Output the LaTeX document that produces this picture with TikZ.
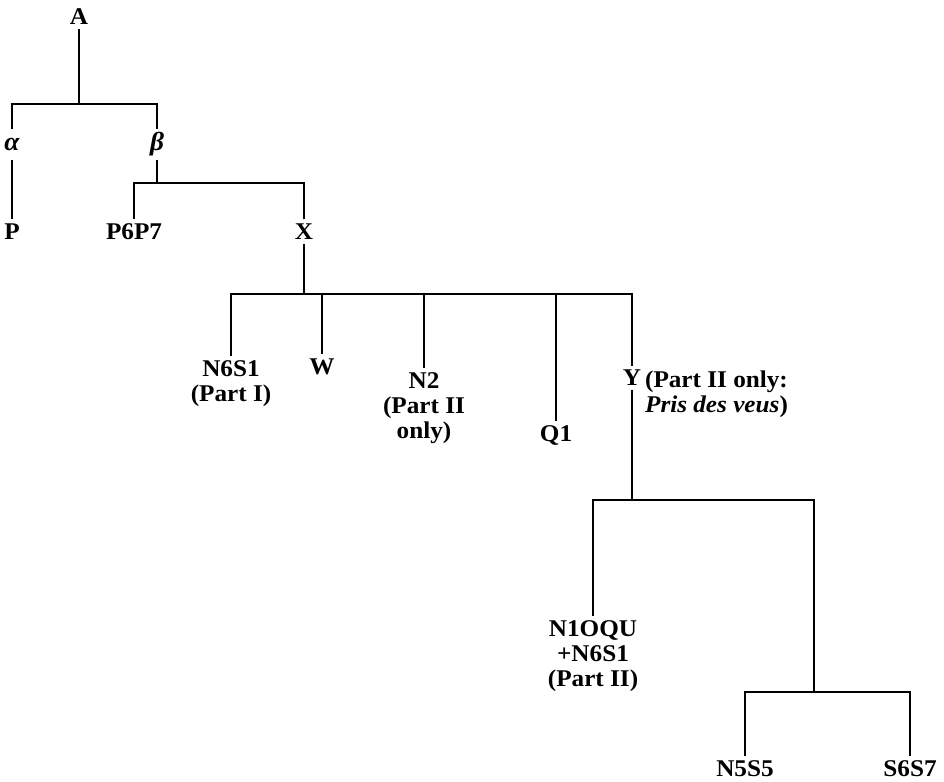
\documentclass[tikz,border=0pt]{standalone}
\usepackage{fontspec}
\newfontfamily\treefont{Liberation Serif}[FakeStretch=1.05]
\begin{document}
\begin{tikzpicture}[x=1pt,y=-1pt,
  lbl/.style={anchor=north, inner xsep=0pt, inner ysep=5.5pt, outer sep=0pt, align=center,
              font=\treefont\bfseries\fontsize{24}{25}\selectfont},
  greek/.style={lbl, text height=15pt, text depth=4pt, inner ysep=7pt,
              font=\treefont\bfseries\itshape\fontsize{26}{25}\selectfont},
  conn/.style={line width=2.2pt, line join=miter, line cap=rect}]
\useasboundingbox (0,0) rectangle (944,781);
% nodes
\node[lbl] (A) at (79,3) {A};
\node[greek] (alpha) at (12,128) {α};
\node[greek] (beta) at (157,128) {β};
\node[lbl] (P) at (12,218) {P};
\node[lbl] (P6P7) at (134,218) {P6P7};
\node[lbl] (X) at (304,218) {X};
\node[lbl] (N6S1) at (231,355) {N6S1\\(Part I)};
\node[lbl] (W) at (322,353) {W};
\node[lbl] (N2) at (424,367) {N2\\(Part II\\only)};
\node[lbl] (Q1) at (556,420) {Q1};
\node[lbl, inner ysep=5pt] (Y) at (632,365) {Y};
\node[lbl, anchor=north west, align=left, inner xsep=0pt, xshift=4pt] (note) at (Y.north east)
  {(Part II only:\\\textit{Pris des veus})};
\node[lbl] (N1) at (593,615) {N1OQU\\+N6S1\\(Part II)};
\node[lbl] (N5) at (745,755) {N5S5};
\node[lbl] (S6) at (910,755) {S6S7};
% junctions
\coordinate (jA) at (79,104);
\coordinate (jB) at (157,183);
\coordinate (jX) at (304,294);
\coordinate (jY) at (632,500);
\coordinate (j2) at (814,692);
% connectors
\draw[conn] (A.south) -- (jA);
\draw[conn] (alpha.north) |- (jA) -| (beta.north);
\draw[conn] (alpha.south) -- (P.north);
\draw[conn] (beta.south) -- (jB);
\draw[conn] (P6P7.north) |- (jB) -| (X.north);
\draw[conn] (X.south) -- (jX);
\draw[conn] (N6S1.north) |- (jX) -| (Y.north);
\draw[conn] (W.north) -- (W.north |- jX);
\draw[conn] (N2.north) -- (N2.north |- jX);
\draw[conn] (Q1.north) -- (Q1.north |- jX);
\draw[conn] (Y.south) -- (jY);
\draw[conn] (N1.north) |- (jY) -| (j2);
\draw[conn] (N5.north) |- (j2) -| (S6.north);
\end{tikzpicture}
\end{document}
